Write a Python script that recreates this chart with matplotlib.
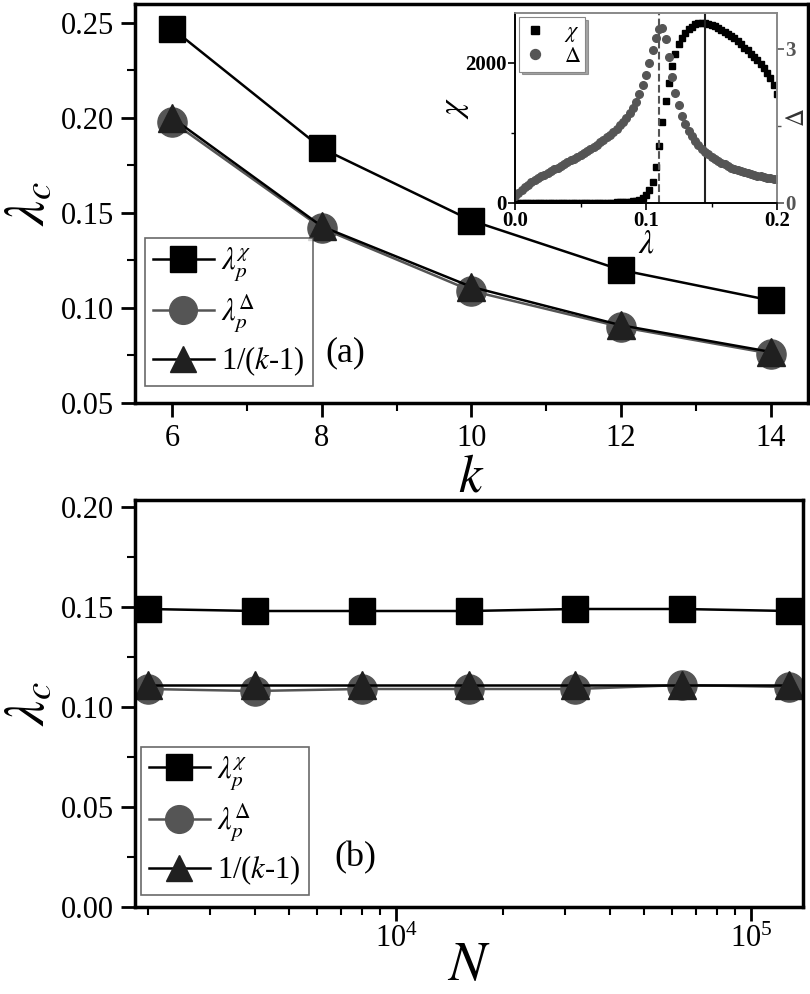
import numpy as np
import matplotlib
matplotlib.use('Agg')
from matplotlib import pyplot as plt
from matplotlib.ticker import MultipleLocator, FormatStrFormatter, LogLocator, NullFormatter

plt.rcParams['font.family'] = 'Liberation Serif'
plt.rcParams['mathtext.fontset'] = 'stix'

# panel (a): critical point vs degree k
k = [6, 8, 10, 12, 14]
lam_chi_k = [0.247, 0.184, 0.146, 0.120, 0.104]
lam_delta_k = [0.198, 0.142, 0.109, 0.090, 0.076]
mf_k = [0.2, 0.1429, 0.1111, 0.0909, 0.0769]

# panel (b): critical point vs size N (k = 10)
N = [2000, 4000, 8000, 16000, 32000, 64000, 128000]
lam_chi_N = [0.149, 0.148, 0.148, 0.148, 0.149, 0.149, 0.148]
lam_delta_N = [0.109, 0.108, 0.109, 0.109, 0.109, 0.111, 0.110]
mf_N = [0.1111, 0.1111, 0.1111, 0.1111, 0.1111, 0.1111, 0.1111]

# inset: chi and Delta vs lambda (k = 10)
lam_in = np.linspace(0, 0.2, 81)
chi_in = [0, 0, 0, 0, 0, 0, 0, 0, 0, 0,
          0, 0, 0, 0, 0, 0, 1, 1, 1, 1,
          1, 2, 2, 2, 3, 3, 4, 4, 5, 6,
          7, 9, 11, 13, 16, 20, 26, 34, 48, 70,
          110, 180, 300, 520, 820, 1150, 1450, 1720, 1950, 2130,
          2270, 2360, 2430, 2480, 2520, 2550, 2565, 2572, 2570, 2560,
          2545, 2525, 2500, 2475, 2445, 2415, 2385, 2350, 2310, 2265,
          2220, 2180, 2130, 2085, 2040, 1990, 1930, 1860, 1780, 1680, 1550]
delta_in = [0.13, 0.2, 0.26, 0.31, 0.36, 0.40, 0.44, 0.48, 0.52, 0.55,
            0.59, 0.62, 0.66, 0.69, 0.73, 0.76, 0.79, 0.83, 0.86, 0.90,
            0.93, 0.97, 1.01, 1.05, 1.09, 1.13, 1.18, 1.23, 1.28, 1.33,
            1.39, 1.45, 1.51, 1.58, 1.66, 1.75, 1.85, 1.97, 2.12, 2.30,
            2.50, 2.73, 2.98, 3.22, 3.38, 3.40, 3.20, 2.85, 2.45, 2.15,
            1.90, 1.70, 1.54, 1.41, 1.30, 1.21, 1.13, 1.06, 1.00, 0.95,
            0.90, 0.86, 0.82, 0.78, 0.75, 0.72, 0.69, 0.66, 0.64, 0.62,
            0.60, 0.58, 0.56, 0.55, 0.53, 0.52, 0.50, 0.49, 0.48, 0.47, 0.46]
lam_chi_peak = 0.1447
lam_delta_peak = 0.1096

labels = [r'$\lambda_p^{\chi}$', r'$\lambda_p^{\mathit{\Delta}}$', r'1/($k$-1)']

W, H = 810, 994
fig = plt.figure(figsize=(W / 100, H / 100), dpi=100)


def box(l, r, t, b):
    return [l / W, 1 - b / H, (r - l) / W, (b - t) / H]


def style(ax, size):
    for s in ax.spines.values():
        s.set_linewidth(2.5)
    ax.tick_params(which='major', direction='out', length=10, width=2, labelsize=size, pad=5)
    ax.tick_params(which='minor', direction='out', length=6, width=1.5)
    ax.tick_params(top=False, right=False, which='both')


def series(ax, x, y1, y2, y3):
    ax.plot(x, y1, '-s', color='black', lw=1.8, ms=19, mfc='black', mec='black', label=labels[0])
    ax.plot(x, y2, '-o', color='#555555', lw=1.8, ms=21, mfc='#555555', mec='#555555', label=labels[1])
    ax.plot(x, y3, '-^', color='black', lw=1.8, ms=20, mfc='#202020', mec='#202020', label=labels[2])


def legend(ax, anchor, size, sp):
    lg = ax.legend(loc='lower left', bbox_to_anchor=anchor, fontsize=size, frameon=True,
                   fancybox=False, edgecolor='#444444', handlelength=2.0, handletextpad=0.25,
                   borderpad=0.25, labelspacing=sp, borderaxespad=0, markerscale=0.95)
    lg.get_frame().set_linewidth(1.2)


# ---- panel (a)
ax1 = fig.add_axes(box(135, 808, 4, 403))
series(ax1, k, lam_chi_k, lam_delta_k, mf_k)
ax1.set_xlim(5.5, 14.5)
ax1.set_ylim(0.05, 0.26)
ax1.xaxis.set_major_locator(MultipleLocator(2))
ax1.xaxis.set_minor_locator(MultipleLocator(1))
ax1.yaxis.set_major_locator(MultipleLocator(0.05))
ax1.yaxis.set_minor_locator(MultipleLocator(0.025))
ax1.yaxis.set_major_formatter(FormatStrFormatter('%.2f'))
style(ax1, 22)
ax1.set_xlabel(r'$k$', fontsize=38, labelpad=1)
ax1.set_ylabel(r'$\lambda_c$', fontsize=40, labelpad=4)
legend(ax1, (0.015, 0.043), 22, 0.3)
ax1.text(0.313, 0.125, '(a)', transform=ax1.transAxes, fontsize=26, ha='center', va='center')

# ---- panel (b)
ax2 = fig.add_axes(box(135, 803, 500, 907))
series(ax2, N, lam_chi_N, lam_delta_N, mf_N)
ax2.set_xscale('log')
ax2.set_xlim(1840, 140000)
ax2.set_ylim(0, 0.2035)
ax2.xaxis.set_major_locator(LogLocator(base=10))
ax2.xaxis.set_minor_locator(LogLocator(base=10, subs=np.arange(2, 10)))
ax2.xaxis.set_minor_formatter(NullFormatter())
ax2.yaxis.set_major_locator(MultipleLocator(0.05))
ax2.yaxis.set_minor_locator(MultipleLocator(0.025))
ax2.yaxis.set_major_formatter(FormatStrFormatter('%.2f'))
style(ax2, 22)
ax2.tick_params(axis='x', which='major', pad=3)
ax2.set_xlabel(r'$N$', fontsize=40, labelpad=-10)
ax2.set_ylabel(r'$\lambda_c$', fontsize=40, labelpad=4)
legend(ax2, (0.009, 0.03), 22, 0.3)
ax2.text(0.33, 0.12, '(b)', transform=ax2.transAxes, fontsize=26, ha='center', va='center')

# ---- inset
axi = fig.add_axes(box(515, 777, 13, 203))
axi.plot(lam_in, chi_in, 's', color='black', ms=4.5, label=r'$\chi$')
axi.axvline(lam_chi_peak, color='#222222', lw=1.5)
axi.axvline(lam_delta_peak, color='#555555', lw=1.5, ls='--')
axi.set_xlim(0, 0.2)
axi.set_ylim(0, 2714)
axi.xaxis.set_major_locator(MultipleLocator(0.1))
axi.xaxis.set_minor_locator(MultipleLocator(0.05))
axi.xaxis.set_major_formatter(FormatStrFormatter('%.1f'))
axi.yaxis.set_major_locator(MultipleLocator(2000))
axi.yaxis.set_minor_locator(MultipleLocator(1000))
axi.tick_params(which='both', direction='out', labelsize=15, pad=1, top=False, right=False)
axi.tick_params(which='major', length=5, width=1.2)
axi.tick_params(which='minor', length=3, width=1)
for t in axi.get_xticklabels() + axi.get_yticklabels():
    t.set_fontweight('bold')
for s in axi.spines.values():
    s.set_linewidth(1.2)
axi.spines['top'].set_color('#888888')
axi.spines['right'].set_color('#888888')
axi.set_xlabel(r'$\lambda$', fontsize=24, labelpad=-2)
axi.set_ylabel(r'$\chi$', fontsize=24, labelpad=-4)

axr = axi.twinx()
axr.plot(lam_in, delta_in, 'o', color='#555555', ms=5.5, label=r'$\mathit{\Delta}$')
axr.set_ylim(0, 3.7)
axr.yaxis.set_major_locator(MultipleLocator(3))
axr.yaxis.set_minor_locator(MultipleLocator(1.5))
axr.tick_params(which='both', direction='out', labelsize=15, pad=1, colors='#555555')
axr.tick_params(which='major', length=5, width=1.2)
axr.tick_params(which='minor', length=3, width=1)
for t in axr.get_yticklabels():
    t.set_fontweight('bold')
for s in axr.spines.values():
    s.set_linewidth(1.2)
axr.spines['right'].set_color('#888888')
axr.spines['top'].set_color('#888888')
axr.set_ylabel(r'$\Delta$', fontsize=18, color='#333333')
axr.yaxis.set_label_coords(1.04, 0.45)

h1, l1 = axi.get_legend_handles_labels()
h2, l2 = axr.get_legend_handles_labels()
li = axr.legend(h1 + h2, l1 + l2, loc='upper left', fontsize=16, frameon=True, fancybox=False,
                shadow=True, edgecolor='#888888', handlelength=1.0, handletextpad=0.8,
                borderpad=0.2, labelspacing=0.1, borderaxespad=0.2, markerscale=1.3)
li.get_frame().set_linewidth(0.8)

fig.savefig('out.png', dpi=100)
